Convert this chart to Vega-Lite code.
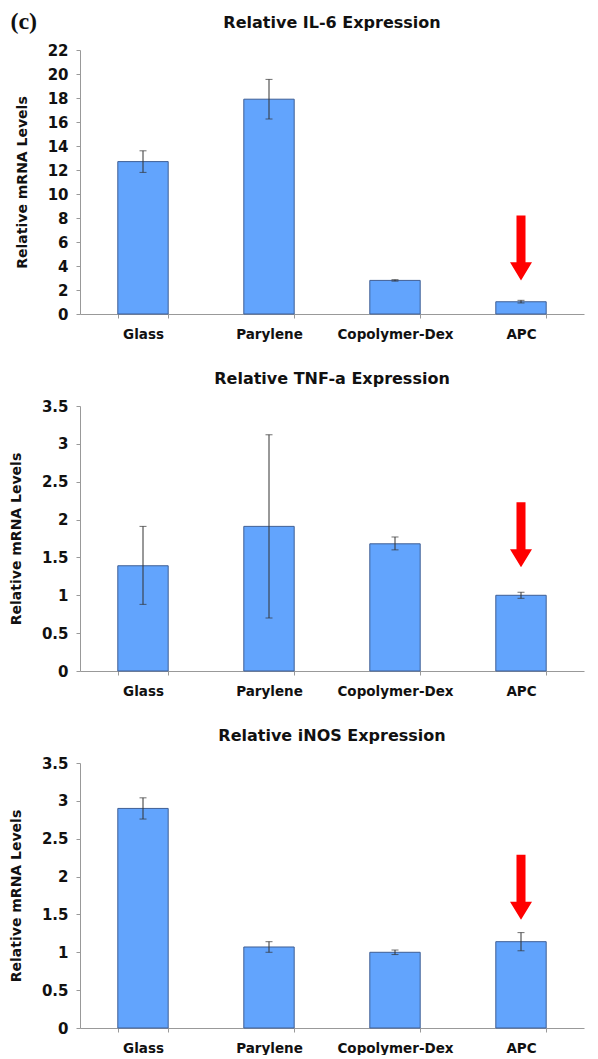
{
  "$schema": "https://vega.github.io/schema/vega-lite/v6.json",
  "padding": {"left": 9, "top": 10, "right": 4, "bottom": 0},
  "background": "white",
  "title": {"text": "(c)", "anchor": "start", "frame": "bounds", "font": "Liberation Serif", "fontSize": 24, "fontWeight": "bold", "color": "#111", "offset": -19, "dx": 1},
  "datasets": {
    "bars": [
      {"gene": "IL-6", "cat": "Glass", "value": 12.7, "lo": 11.8, "hi": 13.6},
      {"gene": "IL-6", "cat": "Parylene", "value": 17.9, "lo": 16.25, "hi": 19.55},
      {"gene": "IL-6", "cat": "Copolymer-Dex", "value": 2.8, "lo": 2.74, "hi": 2.86},
      {"gene": "IL-6", "cat": "APC", "value": 1.02, "lo": 0.92, "hi": 1.14},
      {"gene": "TNF-a", "cat": "Glass", "value": 1.39, "lo": 0.88, "hi": 1.91},
      {"gene": "TNF-a", "cat": "Parylene", "value": 1.91, "lo": 0.7, "hi": 3.12},
      {"gene": "TNF-a", "cat": "Copolymer-Dex", "value": 1.68, "lo": 1.6, "hi": 1.77},
      {"gene": "TNF-a", "cat": "APC", "value": 1.0, "lo": 0.96, "hi": 1.04},
      {"gene": "iNOS", "cat": "Glass", "value": 2.9, "lo": 2.76, "hi": 3.04},
      {"gene": "iNOS", "cat": "Parylene", "value": 1.07, "lo": 1.0, "hi": 1.14},
      {"gene": "iNOS", "cat": "Copolymer-Dex", "value": 1.0, "lo": 0.97, "hi": 1.03},
      {"gene": "iNOS", "cat": "APC", "value": 1.14, "lo": 1.02, "hi": 1.26}
    ],
    "arrows": [
      {"gene": "IL-6", "cat": "APC", "tip": 2.8},
      {"gene": "TNF-a", "cat": "APC", "tip": 1.37},
      {"gene": "iNOS", "cat": "APC", "tip": 1.43}
    ]
  },
  "config": {
    "view": {"stroke": null},
    "axis": {"grid": false, "domainColor": "#999999", "tickColor": "#999999", "tickSize": 4, "labelFont": "DejaVu Sans", "labelFontWeight": "bold", "labelFontSize": 15, "labelColor": "#111", "titleFont": "DejaVu Sans", "titleFontWeight": "bold", "titleFontSize": 14, "titleColor": "#111", "labelOverlap": false},
    "axisX": {"labelFontSize": 13.5, "labelPadding": 9, "labelAngle": 0, "title": null},
    "axisY": {"titlePadding": 18, "labelPadding": 8, "format": ".1~f"},
    "title": {"font": "DejaVu Sans", "fontSize": 16, "fontWeight": "bold", "color": "#111", "offset": 12}
  },
  "spacing": 30,
  "vconcat": [
    {
      "title": "Relative IL-6 Expression",
      "width": 504, "height": 264,
      "data": {"name": "bars"},
      "transform": [{"filter": "datum.gene === 'IL-6'"}],
      "encoding": {"x": {"field": "cat", "type": "nominal", "sort": ["Glass", "Parylene", "Copolymer-Dex", "APC"], "scale": {"paddingInner": 0.6, "paddingOuter": 0.3}, "axis": {"tickBand": "extent"}}},
      "layer": [
        {"mark": {"type": "bar", "fill": "#62a4fd", "stroke": "#3f5f95", "strokeWidth": 1},
         "encoding": {"y": {"field": "value", "type": "quantitative", "title": "Relative mRNA Levels", "scale": {"domain": [0, 22]}, "axis": {"values": [0, 2, 4, 6, 8, 10, 12, 14, 16, 18, 20, 22]}}}},
        {"mark": {"type": "errorbar", "ticks": {"size": 7, "color": "#333"}, "rule": {"color": "#333", "strokeWidth": 1}},
         "encoding": {"y": {"field": "lo", "type": "quantitative", "title": "Relative mRNA Levels", "axis": {"values": [0, 2, 4, 6, 8, 10, 12, 14, 16, 18, 20, 22]}}, "y2": {"field": "hi"}}},
        {"data": {"name": "arrows"}, "transform": [{"filter": "datum.gene === 'IL-6'"}],
         "mark": {"type": "point", "shape": "M0,0L-1,-1.64L-0.41,-1.64L-0.41,-5.9L0.41,-5.9L0.41,-1.64L1,-1.64Z", "size": 484, "filled": true, "color": "#ff0000", "opacity": 1, "strokeWidth": 0},
         "encoding": {"y": {"field": "tip", "type": "quantitative", "title": "Relative mRNA Levels", "axis": {"values": [0, 2, 4, 6, 8, 10, 12, 14, 16, 18, 20, 22]}}}}
      ]
    },
    {
      "title": "Relative TNF-a Expression",
      "width": 504, "height": 265,
      "data": {"name": "bars"},
      "transform": [{"filter": "datum.gene === 'TNF-a'"}],
      "encoding": {"x": {"field": "cat", "type": "nominal", "sort": ["Glass", "Parylene", "Copolymer-Dex", "APC"], "scale": {"paddingInner": 0.6, "paddingOuter": 0.3}, "axis": {"tickBand": "extent"}}},
      "layer": [
        {"mark": {"type": "bar", "fill": "#62a4fd", "stroke": "#3f5f95", "strokeWidth": 1},
         "encoding": {"y": {"field": "value", "type": "quantitative", "title": "Relative mRNA Levels", "scale": {"domain": [0, 3.5]}, "axis": {"values": [0, 0.5, 1, 1.5, 2, 2.5, 3, 3.5]}}}},
        {"mark": {"type": "errorbar", "ticks": {"size": 7, "color": "#333"}, "rule": {"color": "#333", "strokeWidth": 1}},
         "encoding": {"y": {"field": "lo", "type": "quantitative", "title": "Relative mRNA Levels", "axis": {"values": [0, 0.5, 1, 1.5, 2, 2.5, 3, 3.5]}}, "y2": {"field": "hi"}}},
        {"data": {"name": "arrows"}, "transform": [{"filter": "datum.gene === 'TNF-a'"}],
         "mark": {"type": "point", "shape": "M0,0L-1,-1.64L-0.41,-1.64L-0.41,-5.9L0.41,-5.9L0.41,-1.64L1,-1.64Z", "size": 484, "filled": true, "color": "#ff0000", "opacity": 1, "strokeWidth": 0},
         "encoding": {"y": {"field": "tip", "type": "quantitative", "title": "Relative mRNA Levels", "axis": {"values": [0, 0.5, 1, 1.5, 2, 2.5, 3, 3.5]}}}}
      ]
    },
    {
      "title": "Relative iNOS Expression",
      "width": 504, "height": 265,
      "data": {"name": "bars"},
      "transform": [{"filter": "datum.gene === 'iNOS'"}],
      "encoding": {"x": {"field": "cat", "type": "nominal", "sort": ["Glass", "Parylene", "Copolymer-Dex", "APC"], "scale": {"paddingInner": 0.6, "paddingOuter": 0.3}, "axis": {"tickBand": "extent"}}},
      "layer": [
        {"mark": {"type": "bar", "fill": "#62a4fd", "stroke": "#3f5f95", "strokeWidth": 1},
         "encoding": {"y": {"field": "value", "type": "quantitative", "title": "Relative mRNA Levels", "scale": {"domain": [0, 3.5]}, "axis": {"values": [0, 0.5, 1, 1.5, 2, 2.5, 3, 3.5]}}}},
        {"mark": {"type": "errorbar", "ticks": {"size": 7, "color": "#333"}, "rule": {"color": "#333", "strokeWidth": 1}},
         "encoding": {"y": {"field": "lo", "type": "quantitative", "title": "Relative mRNA Levels", "axis": {"values": [0, 0.5, 1, 1.5, 2, 2.5, 3, 3.5]}}, "y2": {"field": "hi"}}},
        {"data": {"name": "arrows"}, "transform": [{"filter": "datum.gene === 'iNOS'"}],
         "mark": {"type": "point", "shape": "M0,0L-1,-1.64L-0.41,-1.64L-0.41,-5.9L0.41,-5.9L0.41,-1.64L1,-1.64Z", "size": 484, "filled": true, "color": "#ff0000", "opacity": 1, "strokeWidth": 0},
         "encoding": {"y": {"field": "tip", "type": "quantitative", "title": "Relative mRNA Levels", "axis": {"values": [0, 0.5, 1, 1.5, 2, 2.5, 3, 3.5]}}}}
      ]
    }
  ]
}
